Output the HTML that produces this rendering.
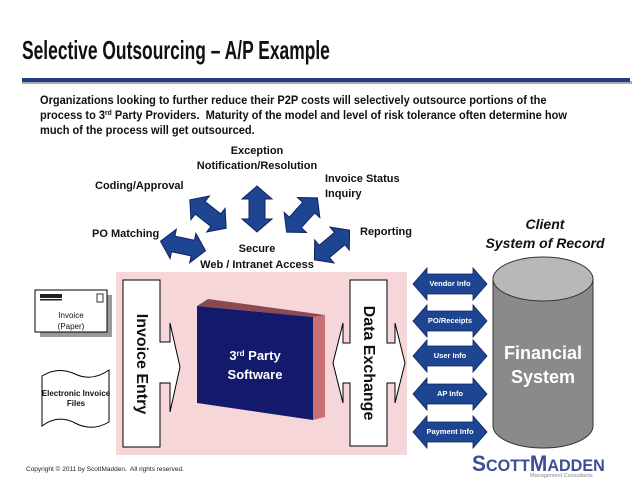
<!DOCTYPE html>
<html><head><meta charset="utf-8"><style>
body{margin:0;width:638px;height:493px;background:#fff;overflow:hidden;position:relative;font-family:"Liberation Sans",Arial,sans-serif}
.t{position:absolute;font-weight:bold;color:#111;white-space:nowrap}
sup{line-height:0;vertical-align:4px}
</style></head><body>
<svg width="638" height="493" style="position:absolute;left:0;top:0" xmlns="http://www.w3.org/2000/svg">
<defs>
<path id="da" d="M-23,0 L-10,-15 L-10,-8 L10,-8 L10,-15 L23,0 L10,15 L10,8 L-10,8 L-10,15 Z"/>
<path id="sa" d="M-37,0 L-23,-16 L-23,-10 L23,-10 L23,-16 L37,0 L23,16 L23,10 L-23,10 L-23,16 Z"/>
</defs>
<rect x="22" y="81" width="610" height="3" fill="#aaa"/>
<rect x="22" y="78" width="608" height="4" fill="#1f3d8a"/>
<g fill="#1e4592" stroke="#0d2460" stroke-width="1">
<use href="#da" transform="translate(183,246) rotate(12)"/>
<use href="#da" transform="translate(208,214) rotate(38)"/>
<use href="#da" transform="translate(257,209) rotate(90)"/>
<use href="#da" transform="translate(302,215) rotate(-48)"/>
<use href="#da" transform="translate(332,245) rotate(-40)"/>
</g>
<rect x="116" y="272" width="291" height="183" fill="#f6d6d8"/>
<path d="M123,280 H160 V342 H170 V323 L180,367 L170,412 V383 H160 V447 H123 Z" fill="#fff" stroke="#000" stroke-width="1"/>
<path d="M350,280 H387 V343 H395 V323 L405,363 L395,403 V383 H387 V446 H350 V383 H343 V403 L333,363 L343,323 V343 H350 Z" fill="#fff" stroke="#000" stroke-width="1"/>
<polygon points="197,306 208,299 325,315 313,317" fill="#8b4a50"/>
<polygon points="313,317 325,315 325,417 313,420" fill="#c96f72"/>
<polygon points="197,306 313,317 313,420 197,403" fill="#141a6b"/>
<g fill="#1e4592" stroke="#0d2460" stroke-width="0.8">
<use href="#sa" transform="translate(450,284)"/>
<use href="#sa" transform="translate(450,321)"/>
<use href="#sa" transform="translate(450,356)"/>
<use href="#sa" transform="translate(450,394)"/>
<use href="#sa" transform="translate(450,432)"/>
</g>
<path d="M493,279 V426 A50,22 0 0 0 593,426 V279" fill="#8a8a8a" stroke="#333" stroke-width="1"/>
<ellipse cx="543" cy="279" rx="50" ry="22" fill="#b8b8b8" stroke="#333" stroke-width="1"/>
<rect x="40" y="295" width="72" height="42" fill="#999"/>
<rect x="35" y="290" width="72" height="42" fill="#fff" stroke="#000" stroke-width="1"/>
<rect x="40" y="294" width="22" height="4" fill="#222"/>
<rect x="40" y="299" width="22" height="1.5" fill="#222"/>
<rect x="97" y="294" width="6" height="8" fill="#fff" stroke="#000" stroke-width="0.8"/>
<path d="M42,376 Q58,366 75,374 Q92,382 109,370 V422 Q92,432 75,423 Q58,414 42,426 Z" fill="#fff" stroke="#000" stroke-width="1"/>
</svg>
<div class="t" style="left:22px;top:35px;font-size:26px;transform:scaleX(0.67);transform-origin:left">Selective Outsourcing – A/P Example</div>
<div class="t" style="left:40px;top:94px;font-size:11.5px;line-height:15px;transform:scaleX(0.96);transform-origin:left">Organizations looking to further reduce their P2P costs will selectively outsource portions of the<br>process to 3<sup style="font-size:7px">rd</sup> Party Providers.&nbsp; Maturity of the model and level of risk tolerance often determine how<br>much of the process will get outsourced.</div>
<div class="t" style="left:177px;width:160px;top:144px;font-size:11px;line-height:15px;text-align:center">Exception<br>Notification/Resolution</div>
<div class="t" style="left:95px;top:180px;font-size:11px">Coding/Approval</div>
<div class="t" style="left:325px;top:172px;font-size:11px;line-height:15px">Invoice Status<br>Inquiry</div>
<div class="t" style="left:92px;top:228px;font-size:11px">PO Matching</div>
<div class="t" style="left:360px;top:226px;font-size:11px">Reporting</div>
<div class="t" style="left:177px;width:160px;top:241px;font-size:11px;line-height:16px;text-align:center">Secure<br>Web / Intranet Access</div>
<div class="t" style="left:475px;width:140px;top:215px;font-size:14px;line-height:19px;text-align:center;font-style:italic">Client<br>System of Record</div>
<div class="t" style="left:141px;top:364px;font-size:16px;transform:translate(-50%,-50%) rotate(90deg)">Invoice Entry</div>
<div class="t" style="left:368px;top:363px;font-size:16px;transform:translate(-50%,-50%) rotate(90deg)">Data Exchange</div>
<div class="t" style="left:197px;width:116px;top:346px;font-size:13px;line-height:19px;text-align:center;color:#fff">3<sup style="font-size:8px">rd</sup> Party<br>Software</div>
<div class="t" style="left:493px;width:100px;top:341px;font-size:18px;line-height:24px;text-align:center;color:#fff">Financial<br>System</div>
<div class="t" style="left:413px;width:74px;text-align:center;top:279px;font-size:7.5px;color:#fff">Vendor Info</div>
<div class="t" style="left:413px;width:74px;text-align:center;top:316px;font-size:7.5px;color:#fff">PO/Receipts</div>
<div class="t" style="left:413px;width:74px;text-align:center;top:351px;font-size:7.5px;color:#fff">User Info</div>
<div class="t" style="left:413px;width:74px;text-align:center;top:389px;font-size:7.5px;color:#fff">AP Info</div>
<div class="t" style="left:413px;width:74px;text-align:center;top:427px;font-size:7.5px;color:#fff">Payment Info</div>
<div class="t" style="left:35px;width:72px;text-align:center;top:310px;font-size:8px;line-height:11px;font-weight:normal">Invoice<br>(Paper)</div>
<div class="t" style="left:40px;width:72px;text-align:center;top:389px;font-size:8px;line-height:10px">Electronic Invoice<br>Files</div>
<div class="t" style="left:26px;top:466px;font-size:6.5px;font-weight:normal;color:#222">Copyright © 2011 by ScottMadden.&nbsp; All rights reserved.</div>
<div class="t" style="left:472px;top:451px;font-size:22px;color:#3b4e96;transform:scaleX(0.95);transform-origin:left">S<span style="font-size:17px">COTT</span>M<span style="font-size:17px">ADDEN</span></div>
<div class="t" style="left:530px;top:473px;font-size:5.5px;font-weight:normal;color:#888">Management Consultants</div>
</body></html>
